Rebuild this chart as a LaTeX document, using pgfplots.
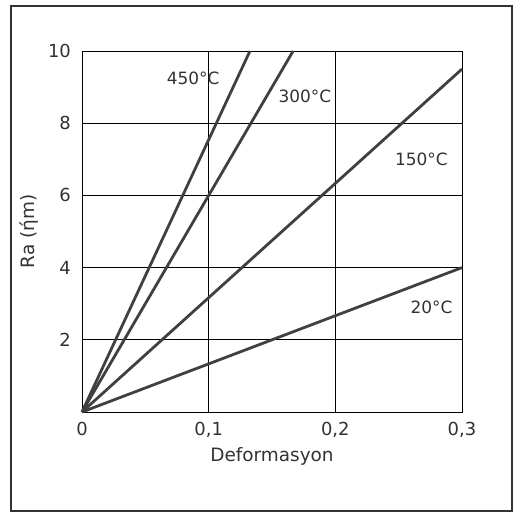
\documentclass[border=0pt]{standalone}
\usepackage{fontspec}
\setmainfont{DejaVu Sans}
\usepackage{pgfplots}
\pgfplotsset{compat=1.18}
\definecolor{lc}{RGB}{64,64,64}
\definecolor{tc}{RGB}{50,50,50}
\begin{document}
\fontsize{18}{21}\selectfont
\begin{tikzpicture}
\begin{axis}[
 name=ax, at={(0,0)}, anchor=south west,
 scale only axis, width=380bp, height=361bp,
 xmin=0, xmax=0.3, ymin=0, ymax=10,
 xtick={0,0.1,0.2,0.3}, xticklabels={0,{0,1},{0,2},{0,3}},
 ytick={2,4,6,8,10},
 grid=major, major grid style={black, line width=0.7bp},
 major tick length=0pt,
 axis line style={black, line width=0.9bp},
 /pgf/number format/assume math mode=true,
 tick label style={font=\fontsize{18}{21}\selectfont, text=tc},
 xticklabel style={yshift=-4bp},
 yticklabel style={xshift=-5bp},
 xlabel={Deformasyon}, ylabel={Ra (ήm)},
 label style={font=\fontsize{18.5}{21}\selectfont, text=tc},
 xlabel style={yshift=2bp},
 ylabel style={yshift=-2bp},
 clip=false,
]
\addplot[lc, line width=2.8bp, no marks] coordinates {(0,0) (0.3,4.0)};
\addplot[lc, line width=2.8bp, no marks] coordinates {(0,0) (0.3,9.5)};
\addplot[lc, line width=2.8bp, no marks] coordinates {(0,0) (0.1667,10)};
\addplot[lc, line width=2.8bp, no marks] coordinates {(0,0) (0.1326,10)};
\node[text=tc, font=\fontsize{17}{20}\selectfont] at (axis cs:0.0877,9.25) {450°C};
\node[text=tc, font=\fontsize{17}{20}\selectfont] at (axis cs:0.176,8.75) {300°C};
\node[text=tc, font=\fontsize{17}{20}\selectfont] at (axis cs:0.268,7.0) {150°C};
\node[text=tc, font=\fontsize{17}{20}\selectfont] at (axis cs:0.276,2.9) {20°C};
\end{axis}
\draw[line width=1.2bp, black!80] ([xshift=-71bp,yshift=-99bp]ax.south west) rectangle ([xshift=50bp,yshift=45bp]ax.north east);
\path ([xshift=-82bp,yshift=-102bp]ax.south west) rectangle ([xshift=58bp,yshift=51bp]ax.north east);
\end{tikzpicture}
\end{document}
